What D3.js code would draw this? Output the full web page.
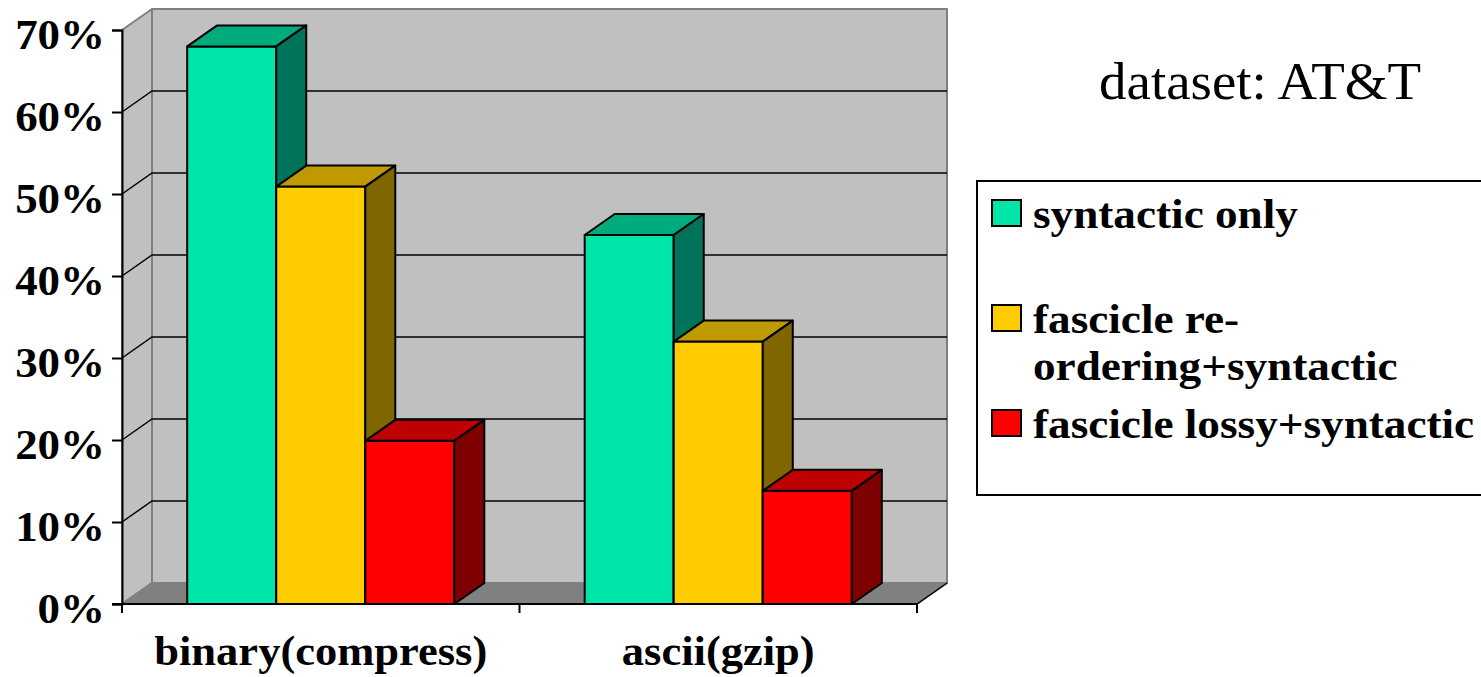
<!DOCTYPE html>
<html>
<head>
<meta charset="utf-8">
<style>
    html, body { margin: 0; padding: 0; background: #fff; }
    svg { display: block; }
    text { font-family: "Liberation Serif", "Times New Roman", serif; fill: #000; }
    .bold { font-weight: 700; }
</style>
</head>
<body>
<svg id="chart"></svg>
<script src="https://d3js.org/d3.v7.min.js"></script>
<script>
    // data
    var categories = ["binary(compress)", "ascii(gzip)"];
    var seriesNames = ["syntactic only", "fascicle re-ordering+syntactic", "fascicle lossy+syntactic"];
    var syntacticOnly = [68, 45];
    var fascicleReordering = [50.9, 32];
    var fascicleLossy = [19.9, 13.8];
    var yTicks = [0, 10, 20, 30, 40, 50, 60, 70];
    var legendLines = [["syntactic only"], ["fascicle re-", "ordering+syntactic"], ["fascicle lossy+syntactic"]];
    var titleText = "dataset: AT&T";

    var seriesValues = [syntacticOnly, fascicleReordering, fascicleLossy];
    var frontColors = ["#00e6a8", "#ffcc00", "#ff0000"];
    var topColors = ["#00ac7e", "#bf9900", "#bf0000"];
    var sideColors = ["#00735a", "#7f6600", "#7f0000"];

    var width = 1481, height = 677;
    var depthX = 30, depthY = -21;

    var svg = d3.select("#chart").attr("width", width).attr("height", height);

    var y = d3.scaleLinear().domain([0, 70]).range([604, 30]);
    var x0 = d3.scaleBand().domain(categories).range([122, 917]).paddingInner(0.328).paddingOuter(0.164);
    var x1 = d3.scaleBand().domain(d3.range(seriesNames.length)).range([0, x0.bandwidth()]);
    // ticks sit on the band edges, not the band centres
    var xEdges = d3.scaleLinear().domain([0, categories.length]).range(x0.range());

    var plotLeft = x0.range()[0], plotRight = x0.range()[1];
    var plotBottom = y(0), plotTop = y(70);

    function poly(points) {
        return d3.line()(points) + "Z";
    }

    // the original text is a bit wider than Liberation Serif, so stretch it
    function stretch(selection, factor) {
        selection
            .attr("textLength", function () { return this.getComputedTextLength() * factor; })
            .attr("lengthAdjust", "spacingAndGlyphs");
    }

    // back wall, side wall, floor
    var walls = svg.append("g").attr("stroke", "#808080").attr("stroke-width", 2).attr("stroke-linejoin", "round");
    walls.append("path")
        .attr("fill", "#c0c0c0")
        .attr("d", poly([[plotLeft + depthX, plotTop + depthY], [plotRight + depthX, plotTop + depthY], [plotRight + depthX, plotBottom + depthY], [plotLeft + depthX, plotBottom + depthY]]));
    walls.append("path")
        .attr("fill", "#c0c0c0")
        .attr("d", poly([[plotLeft, plotTop], [plotLeft + depthX, plotTop + depthY], [plotLeft + depthX, plotBottom + depthY], [plotLeft, plotBottom]]));
    walls.append("path")
        .attr("fill", "#808080")
        .attr("d", poly([[plotLeft, plotBottom], [plotLeft + depthX, plotBottom + depthY], [plotRight + depthX, plotBottom + depthY], [plotRight, plotBottom]]));

    // gridlines run along the side wall and across the back wall
    var gridTicks = yTicks.filter(function (d) { return d > 0 && d < 70; });
    svg.append("g").selectAll("path")
        .data(gridTicks)
        .enter().append("path")
        .attr("fill", "none")
        .attr("stroke", "#000")
        .attr("stroke-width", 1.5)
        .attr("d", function (d) {
            return d3.line()([[plotLeft, y(d)], [plotLeft + depthX, y(d) + depthY], [plotRight + depthX, y(d) + depthY]]);
        });

    // axes
    var yAxis = d3.axisLeft(y).tickValues(yTicks).tickSize(10).tickPadding(7)
        .tickFormat(function (d) { return d + "%"; });
    var yAxisG = svg.append("g").attr("transform", "translate(" + plotLeft + ",0)").call(yAxis);
    yAxisG.attr("font-family", null).attr("font-size", null);
    yAxisG.selectAll("path, line").attr("stroke", "#000").attr("stroke-width", 2);
    yAxisG.selectAll("text").attr("class", "bold").attr("font-size", 42)
        .attr("dy", null).attr("y", 18).call(stretch, 1.07);

    var xTicks = svg.append("g");
    xTicks.selectAll("line")
        .data(d3.range(categories.length + 1))
        .enter().append("line")
        .attr("x1", function (d) { return xEdges(d); })
        .attr("x2", function (d) { return xEdges(d); })
        .attr("y1", plotBottom)
        .attr("y2", plotBottom + 9)
        .attr("stroke", "#000")
        .attr("stroke-width", 2);
    xTicks.append("line")
        .attr("x1", plotLeft - 10).attr("x2", plotRight)
        .attr("y1", plotBottom).attr("y2", plotBottom)
        .attr("stroke", "#000").attr("stroke-width", 2);
    svg.append("line")
        .attr("x1", plotRight).attr("x2", plotRight + depthX)
        .attr("y1", plotBottom).attr("y2", plotBottom + depthY)
        .attr("stroke", "#000").attr("stroke-width", 1.5);

    svg.append("g").selectAll("text")
        .data(categories)
        .enter().append("text")
        .attr("class", "bold")
        .attr("font-size", 42)
        .attr("text-anchor", "middle")
        .attr("x", function (d) { return x0(d) + x0.bandwidth() / 2; })
        .attr("y", 665)
        .text(function (d) { return d; })
        .call(stretch, 1.06);

    // bars, drawn left to right so each front face covers the previous side face
    var bars = [];
    categories.forEach(function (c, i) {
        seriesValues.forEach(function (values, s) {
            bars.push({category: c, series: s, value: values[i]});
        });
    });

    var bar = svg.append("g").selectAll("g")
        .data(bars)
        .enter().append("g")
        .attr("stroke", "#000")
        .attr("stroke-width", 2)
        .attr("stroke-linejoin", "round");

    bar.append("path")
        .attr("fill", function (d) { return frontColors[d.series]; })
        .attr("d", function (d) {
            var a = x0(d.category) + x1(d.series), b = a + x1.bandwidth();
            return poly([[a, y(d.value)], [b, y(d.value)], [b, plotBottom], [a, plotBottom]]);
        });
    bar.append("path")
        .attr("fill", function (d) { return topColors[d.series]; })
        .attr("d", function (d) {
            var a = x0(d.category) + x1(d.series), b = a + x1.bandwidth(), t = y(d.value);
            return poly([[a, t], [a + depthX, t + depthY], [b + depthX, t + depthY], [b, t]]);
        });
    bar.append("path")
        .attr("fill", function (d) { return sideColors[d.series]; })
        .attr("d", function (d) {
            var b = x0(d.category) + x1(d.series) + x1.bandwidth(), t = y(d.value);
            return poly([[b, t], [b + depthX, t + depthY], [b + depthX, plotBottom + depthY], [b, plotBottom]]);
        });

    // title
    svg.append("text")
        .attr("x", 1099)
        .attr("y", 99)
        .attr("font-size", 52)
        .text(titleText)
        .call(stretch, 1.057);

    // legend, its box runs off the right edge like the original
    var legendRows = [
        {swatchY: 200, baselines: [228]},
        {swatchY: 305, baselines: [333, 380]},
        {swatchY: 410, baselines: [438]}
    ];
    var legend = svg.append("g");
    legend.append("rect")
        .attr("x", 977).attr("y", 181).attr("width", 520).attr("height", 314)
        .attr("fill", "#fff").attr("stroke", "#000").attr("stroke-width", 2);
    var row = legend.selectAll("g.row")
        .data(legendRows)
        .enter().append("g").attr("class", "row");
    row.append("rect")
        .attr("x", 992)
        .attr("y", function (d) { return d.swatchY; })
        .attr("width", 29)
        .attr("height", 26)
        .attr("fill", function (d, i) { return frontColors[i]; })
        .attr("stroke", "#000")
        .attr("stroke-width", 2);
    row.each(function (d, i) {
        d3.select(this).selectAll("text")
            .data(legendLines[i])
            .enter().append("text")
            .attr("class", "bold")
            .attr("font-size", 42)
            .attr("x", 1033)
            .attr("y", function (t, j) { return d.baselines[j]; })
            .text(function (t) { return t; })
            .call(stretch, 1.076);
    });
</script>
</body>
</html>
